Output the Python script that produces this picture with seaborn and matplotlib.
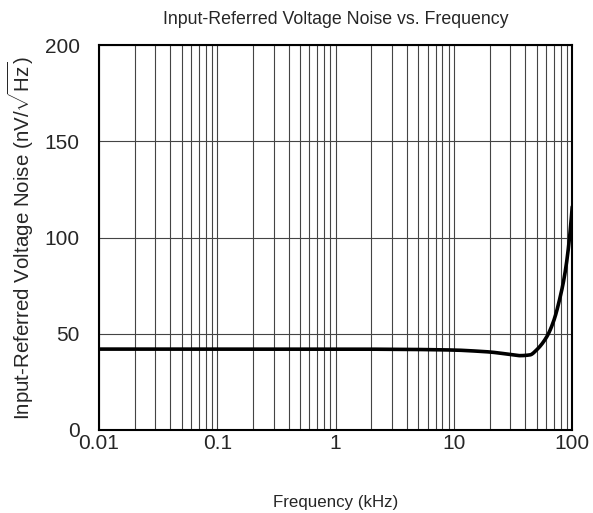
import numpy as np
import pandas as pd
import matplotlib.pyplot as plt
import seaborn as sns
from matplotlib.ticker import LogLocator, FixedLocator, NullFormatter

# Data
freq_khz = [0.01, 0.03, 0.1, 0.3, 1, 3, 10, 15, 20, 30, 36, 44, 50, 61, 70, 79, 86, 93, 100]
noise = [42.0, 42.0, 42.0, 42.0, 42.0, 41.9, 41.5, 41.0, 40.5, 39.2, 38.6, 39.0, 41.6, 48.5, 57.0, 69.0, 80.0, 95.0, 116.0]

x_ticks = [0.01, 0.1, 1, 10, 100]
x_ticklabels = ["0.01", "0.1", "1", "10", "100"]
y_ticks = [0, 50, 100, 150, 200]

# smooth curve in log space
lx = np.log10(freq_khz)
xs = np.linspace(lx[0], lx[-1], 600)
try:
    from scipy.interpolate import PchipInterpolator
    ys = PchipInterpolator(lx, noise)(xs)
except ImportError:
    ys = np.interp(xs, lx, noise)
df = pd.DataFrame({"f": 10 ** xs, "n": ys})

sns.set_style("white")
plt.rcParams["font.family"] = ["Liberation Sans", "DejaVu Sans"]
plt.rcParams["mathtext.fontset"] = "custom"
plt.rcParams["mathtext.rm"] = "Liberation Sans"

fig, ax = plt.subplots(figsize=(5.93, 5.13), dpi=100)
sns.lineplot(data=df, x="f", y="n", color="black", linewidth=2.6, ax=ax)

ax.set_xscale("log")
ax.set_xlim(0.01, 100)
ax.set_ylim(0, 200)
ax.xaxis.set_major_locator(FixedLocator(x_ticks))
ax.set_xticklabels(x_ticklabels)
ax.xaxis.set_minor_locator(LogLocator(base=10, subs=np.arange(2, 10)))
ax.xaxis.set_minor_formatter(NullFormatter())
ax.set_yticks(y_ticks)

ax.grid(True, which="both", axis="x", color="#444444", linewidth=0.8)
ax.grid(True, which="major", axis="y", color="#444444", linewidth=0.8)
ax.tick_params(axis="both", which="both", length=0, labelsize=15)
ax.tick_params(axis="x", pad=3)
ax.tick_params(axis="y", pad=14)
for s in ax.spines.values():
    s.set_color("black")
    s.set_linewidth(1.5)

ax.set_title("Input-Referred Voltage Noise vs. Frequency", fontsize=12.8, pad=15)
ax.set_xlabel("Frequency (kHz)", fontsize=12.2, labelpad=30)
ax.set_ylabel(r"Input-Referred Voltage Noise (nV/$\sqrt{\mathrm{Hz}}$)", fontsize=14.8, labelpad=6)

plt.subplots_adjust(left=0.167, right=0.965, top=0.912, bottom=0.162)
plt.savefig("out.png", dpi=100)
